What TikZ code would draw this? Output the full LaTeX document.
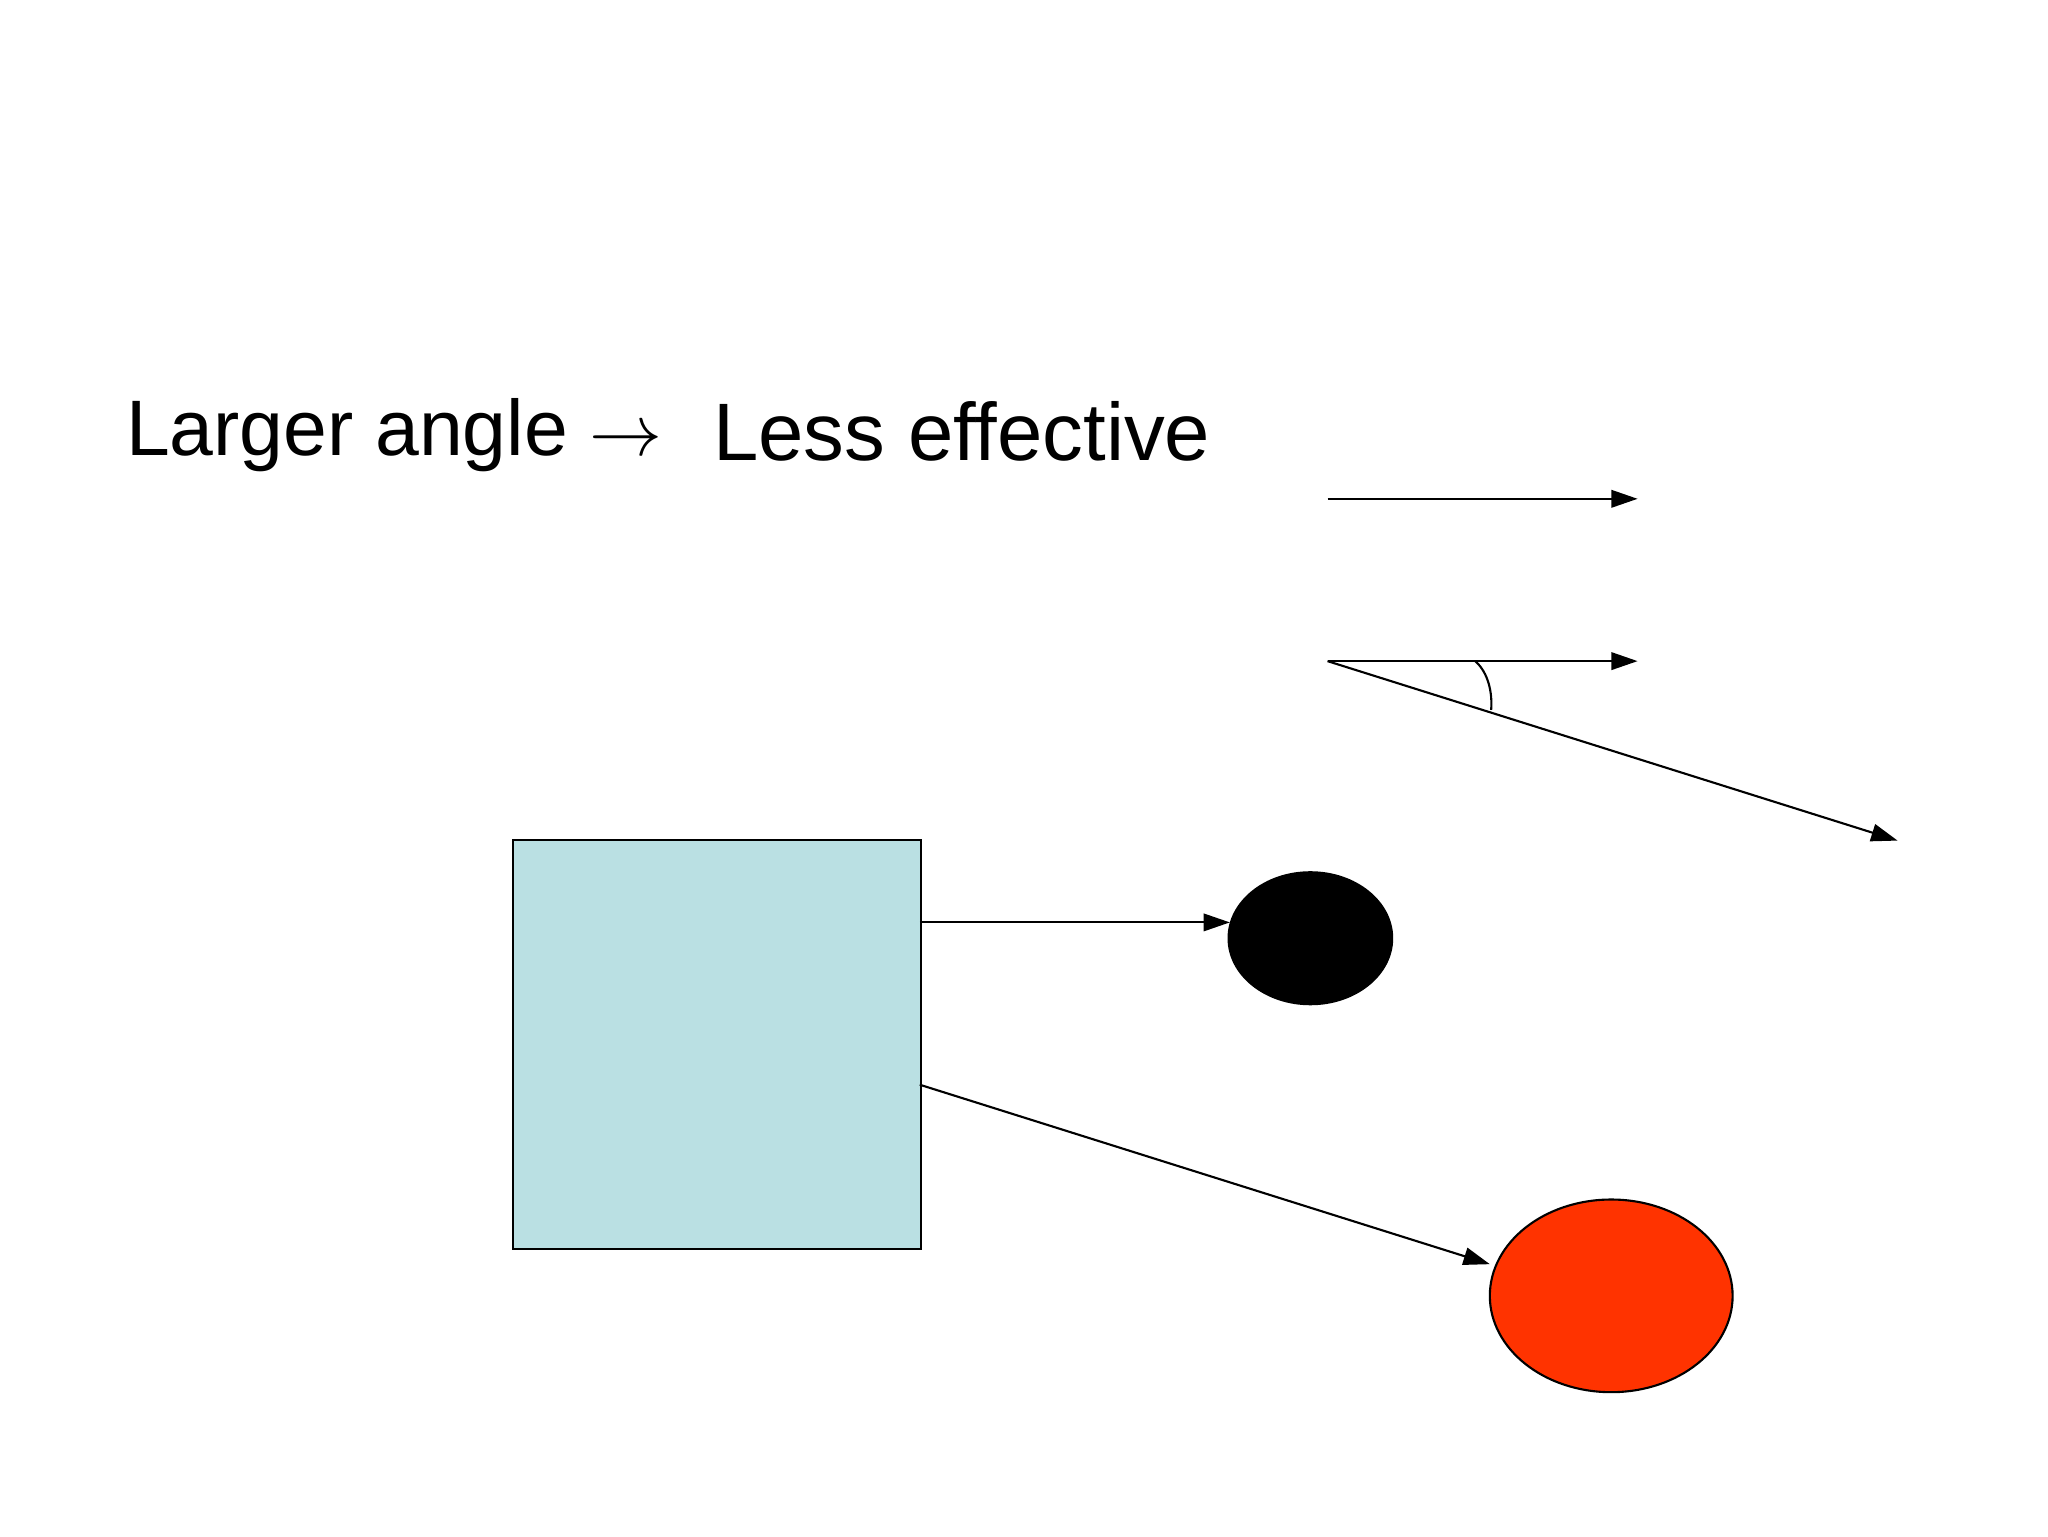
\documentclass[tikz,border=0pt]{standalone}
\usepackage{fontspec}
\setmainfont{Liberation Sans}
\usetikzlibrary{arrows.meta,shapes.geometric}
\begin{document}
\begin{tikzpicture}[x=0.013196cm,y=-0.013196cm,
  arr/.style={-{Triangle[length=7.5pt,width=5pt]},line width=0.6pt},
  lbl/.style={inner sep=0pt}]
\useasboundingbox (0,0) rectangle (1552,1164);
\node[lbl,font=\fontsize{22.4}{27}\selectfont,anchor=base west] (t1) at (95,345) {Larger angle $\rightarrow$};
\node[lbl,font=\fontsize{23.2}{28}\selectfont,anchor=base west] (t2) at (540,349) {Less effective};
\coordinate (a1) at (1006,378); \coordinate (b1) at (1241,378);
\coordinate (a2) at (1006,501); \coordinate (b2) at (1241,501);
\coordinate (c2) at (1438,637);
\draw[arr] (a1) -- (b1);
\draw[arr] (a2) -- (b2);
\draw[arr] (a2) -- (c2);
\draw[line width=0.6pt] (1118,501) .. controls (1128,510) and (1131,525) .. (1130,538);
\node[draw,line width=0.6pt,fill={rgb,255:red,186;green,224;blue,227},minimum width=309*0.013196cm,minimum height=310*0.013196cm,anchor=north west,inner sep=0pt] (sq) at (388,636) {};
\node[draw,line width=0.6pt,fill=black,ellipse,minimum width=124*0.013196cm,minimum height=100*0.013196cm,inner sep=0pt] (be) at (993,711) {};
\node[draw,line width=0.6pt,fill={rgb,255:red,255;green,51;blue,0},ellipse,minimum width=184*0.013196cm,minimum height=146*0.013196cm,inner sep=0pt] (re) at (1221,982) {};
\coordinate (s1) at (697,699); \coordinate (s2) at (697,822);
\coordinate (e1) at (932,699); \coordinate (e2) at (1129,958);
\draw[arr] (s1) -- (e1);
\draw[arr] (s2) -- (e2);
\end{tikzpicture}
\end{document}
